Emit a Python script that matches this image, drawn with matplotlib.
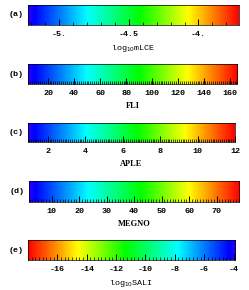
import matplotlib
matplotlib.use("Agg")
import matplotlib.pyplot as plt
import numpy as np
from matplotlib.colors import LinearSegmentedColormap

# panel data
panel_tags = ["(a)", "(b)", "(c)", "(d)", "(e)"]
panel_names = [r"log$_{10}$mLCE", "FLI", "APLE", "MEGNO", r"log$_{10}$SALI"]
value_ranges = [(-5.22, -3.71), (4.4, 165.4), (0.95, 12.0), (1.75, 78.1), (-18.0, -3.9)]
major_ticks = [
    [-5.0, -4.5, -4.0],
    [20, 40, 60, 80, 100, 120, 140, 160],
    [2, 4, 6, 8, 10, 12],
    [10, 20, 30, 40, 50, 60, 70],
    [-16, -14, -12, -10, -8, -6, -4],
]
major_labels = [
    ["-5.", "-4.5", "-4."],
    ["20", "40", "60", "80", "100", "120", "140", "160"],
    ["2", "4", "6", "8", "10", "12"],
    ["10", "20", "30", "40", "50", "60", "70"],
    ["-16", "-14", "-12", "-10", "-8", "-6", "-4"],
]
minor_steps = [0.1, 1.5, 0.1, 1.0, 0.25]
reversed_map = [False, False, False, False, True]

# axes boxes in pixels (left, top, right, bottom) of a 249x290 canvas
boxes = [(28, 5, 239, 25), (28, 64, 237, 84), (28, 123, 235, 142),
         (29, 181, 239, 202), (28, 240, 235, 260)]

W, H = 249, 290
cmap = LinearSegmentedColormap.from_list(
    "rainbow_hue",
    [(0.0, (0.15, 0.0, 1.0)), (0.03, (0.0, 0.0, 1.0)), (0.28, (0.0, 1.0, 1.0)),
     (0.53, (0.0, 1.0, 0.0)), (0.76, (1.0, 1.0, 0.0)), (1.0, (1.0, 0.0, 0.0))])

mono = "Liberation Mono"
fig = plt.figure(figsize=(W / 100, H / 100), dpi=100)

for i in range(5):
    l, t, r, b = boxes[i]
    ax = fig.add_axes([l / W, 1 - b / H, (r - l) / W, (b - t) / H])
    lo, hi = value_ranges[i]
    grad = np.linspace(0, 1, 256)[None, :]
    cm = cmap.reversed() if reversed_map[i] else cmap
    ax.imshow(grad, cmap=cm, aspect="auto", extent=(lo, hi, 0, 1))
    ax.set_xlim(lo, hi)
    ax.set_ylim(0, 1)
    ax.set_yticks([])
    ax.set_xticks(major_ticks[i])
    ax.set_xticklabels(major_labels[i], fontfamily=mono, fontsize=6, fontweight="bold")
    step = minor_steps[i]
    minors = np.arange(np.ceil(lo / step) * step, hi, step)
    ax.set_xticks(minors, minor=True)
    ax.tick_params(axis="x", which="major", direction="in", length=4, width=0.7, pad=4)
    ax.tick_params(axis="x", which="minor", direction="in", length=2, width=0.5)
    for s in ax.spines.values():
        s.set_linewidth(0.5)
    name = panel_names[i]
    if "log" in name:
        ax.set_xlabel(name, fontfamily=mono, fontsize=6, labelpad=4)
    else:
        ax.set_xlabel(name, fontfamily="Liberation Serif", fontsize=6,
                      fontweight="bold", labelpad=4)
    ax.annotate(panel_tags[i], xy=(0, 0.5), xycoords="axes fraction",
                xytext=(-3, 0), textcoords="offset points", ha="right",
                va="center", fontfamily=mono, fontsize=6, fontweight="bold")

fig.savefig("out.png", dpi=100)
